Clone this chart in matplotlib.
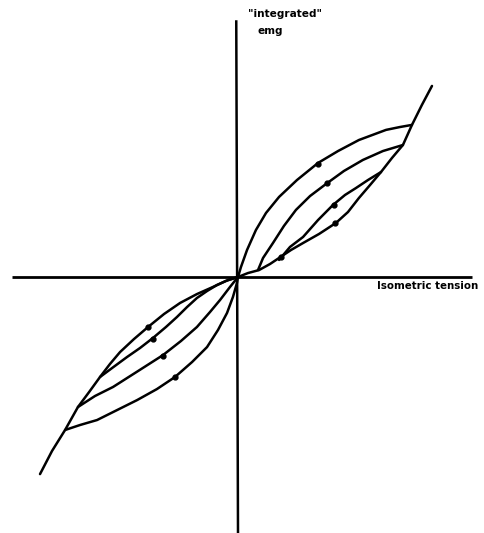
import numpy as np
import matplotlib.pyplot as plt

# S-shaped isometric curve (tension vs integrated emg)
s_x = [-11.38, -10.69, -9.94, -9.20, -8.56, -7.93, -7.36, -6.78, -5.98, -5.17, -4.25, -3.33, -2.36, -1.44, -0.69, 0.0,
       0.57, 1.21, 1.84, 2.36, 3.05, 3.74, 4.66, 5.63, 6.32, 6.95, 7.59, 8.22, 8.85, 9.48, 10.0, 10.57, 11.15]
s_y = [-13.05, -11.52, -10.13, -8.61, -7.62, -6.62, -5.76, -4.97, -4.11, -3.31, -2.45, -1.72, -1.13, -0.66, -0.26, 0.0,
       0.26, 0.46, 0.86, 1.26, 1.79, 2.25, 2.85, 3.58, 4.30, 5.23, 6.09, 6.95, 7.88, 8.74, 10.07, 11.39, 12.65]

# loops in the upper right quadrant
ur_inner_x = [2.36, 2.99, 3.74, 4.60, 5.46, 6.15, 6.78, 7.47, 8.22]
ur_inner_y = [1.13, 1.99, 2.65, 3.77, 4.77, 5.43, 5.89, 6.42, 6.95]
ur_mid_x = [1.15, 1.44, 2.01, 2.64, 3.33, 4.14, 5.06, 6.09, 7.18, 8.33, 9.48]
ur_mid_y = [0.46, 1.26, 2.25, 3.38, 4.44, 5.36, 6.16, 7.02, 7.75, 8.34, 8.74]
ur_outer_x = [0.0, 0.17, 0.52, 1.03, 1.61, 2.36, 3.39, 4.60, 5.75, 6.95, 8.51, 9.31, 10.0]
ur_outer_y = [0.0, 0.66, 1.79, 3.11, 4.24, 5.30, 6.42, 7.55, 8.34, 9.07, 9.74, 9.93, 10.07]

# loops in the lower left quadrant
ll_inner_x = [-7.93, -7.24, -6.38, -5.63, -4.89, -4.14, -3.51, -2.93, -2.36, -1.78, -1.21, -0.57, 0.0]
ll_inner_y = [-6.62, -6.03, -5.30, -4.70, -4.04, -3.31, -2.65, -1.99, -1.39, -0.93, -0.53, -0.20, 0.0]
ll_mid_x = [-9.20, -8.22, -7.18, -5.75, -4.31, -3.28, -2.36, -1.61, -1.03, -0.46, 0.0]
ll_mid_y = [-8.61, -7.88, -7.28, -6.23, -5.17, -4.24, -3.31, -2.32, -1.52, -0.66, 0.0]
ll_outer_x = [-9.94, -9.08, -8.10, -6.95, -5.80, -4.66, -3.62, -2.64, -1.78, -1.15, -0.63, -0.29, -0.06, 0.0]
ll_outer_y = [-10.13, -9.80, -9.47, -8.81, -8.15, -7.42, -6.62, -5.63, -4.64, -3.51, -2.38, -1.32, -0.40, 0.0]

# small dots marked on the curves
dot_x = [4.6, 5.1, 5.5, 5.6, 2.5, -5.2, -4.9, -4.3, -3.6]
dot_y = [7.5, 6.2, 4.8, 3.6, 1.3, -3.3, -4.1, -5.2, -6.6]


def main():
    fig = plt.figure(figsize=(4.84, 5.33), dpi=100)
    ax = fig.add_axes([0, 0, 1, 1])
    ax.set_xlim(-13.68, 14.14)
    ax.set_ylim(-16.95, 18.34)
    ax.axis('off')

    # axes drawn by hand like the original
    ax.plot([-13.0, 13.45], [0, 0], color='black', lw=2.0, solid_capstyle='butt')
    ax.plot([-0.1, 0.0], [17.0, -16.95], color='black', lw=1.8, solid_capstyle='butt')

    kw = dict(color='black', lw=1.8, solid_capstyle='round', solid_joinstyle='round')
    ax.plot(s_x, s_y, **kw)
    for xs, ys in [(ur_inner_x, ur_inner_y), (ur_mid_x, ur_mid_y), (ur_outer_x, ur_outer_y),
                   (ll_inner_x, ll_inner_y), (ll_mid_x, ll_mid_y), (ll_outer_x, ll_outer_y)]:
        ax.plot(xs, ys, **kw)

    ax.plot(dot_x, dot_y, 'o', color='black', ms=3.5)

    ax.text(0.6, 17.4, '"integrated"', fontsize=7.6, fontweight='bold', va='center', ha='left')
    ax.text(1.1, 16.3, 'emg', fontsize=7.6, fontweight='bold', va='center', ha='left')
    ax.text(8.0, -0.6, 'Isometric tension', fontsize=7.4, fontweight='bold', va='center', ha='left')

    fig.savefig('out.png', dpi=100)


if __name__ == '__main__':
    main()
